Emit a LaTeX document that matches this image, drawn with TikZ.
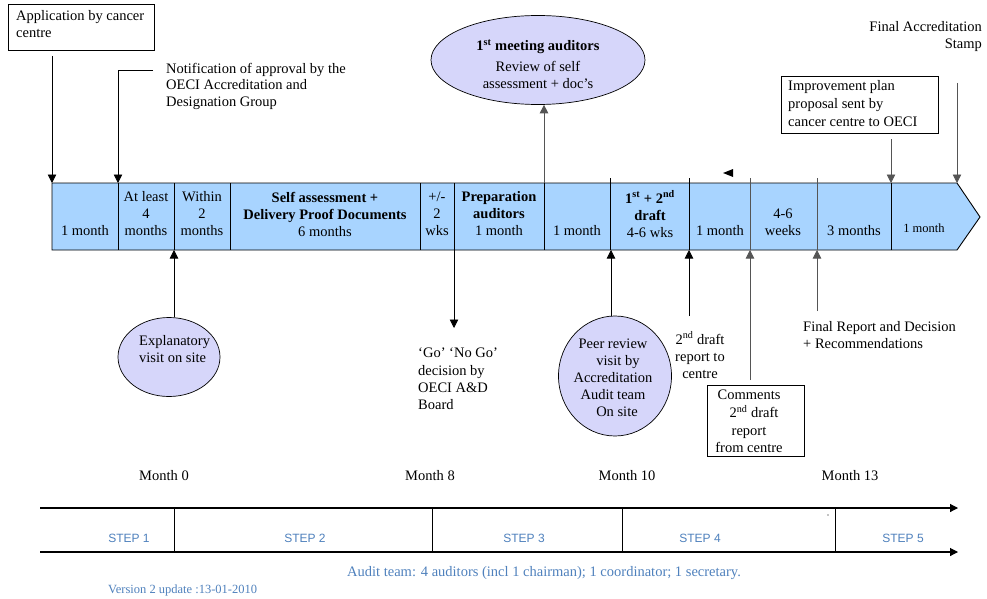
\documentclass[tikz,border=0pt]{standalone}
\usepackage{fontspec}
\setmainfont{Liberation Serif}
\newfontfamily\stepfont{Liberation Sans}
\usetikzlibrary{arrows.meta,shapes.geometric}
\definecolor{bandfill}{RGB}{168,212,255}
\definecolor{ellfill}{RGB}{214,214,250}
\definecolor{stepblue}{RGB}{79,129,189}
\definecolor{arrgray}{RGB}{85,85,85}
\tikzset{
  txt/.style={inner sep=0pt, font=\fontsize{14.5}{17}\selectfont, align=center},
  txtl/.style={txt, align=left, anchor=west},
  arr/.style={-{Triangle[length=8.5pt,width=8.5pt]}, line width=0.8pt},
  garr/.style={arr, draw=arrgray},
  divider/.style={line width=0.8pt},
  gdivider/.style={line width=0.9pt, draw=arrgray},
  box/.style={draw, line width=0.9pt, inner sep=0pt},
  bubble/.style={ellipse, draw, fill=ellfill, line width=0.7pt, inner sep=0pt},
  steptxt/.style={inner sep=0pt, font=\stepfont\fontsize{12}{14}\selectfont, text=stepblue},
  bluetxt/.style={inner sep=0pt, text=stepblue},
  steparr/.style={-{Triangle[length=8pt,width=8pt]}, line width=1.1pt},
}
\begin{document}
\begin{tikzpicture}[x=1pt,y=-1pt]
\useasboundingbox (0,0) rectangle (987,599);
\fill[white] (0,0) rectangle (987,599);

% ---------- main band ----------
\draw[fill=bandfill, line width=0.9pt] (52,183) -- (957,183) -- (980,217) -- (957,250) -- (52,250) -- cycle;
\coordinate (band) at (52,183);

% dividers
\foreach \x in {118,174,230,420,454,544,891} \draw[divider] (\x,183) -- (\x,250);
\foreach \x in {610,689} \draw[divider] (\x,178) -- (\x,250);
\foreach \x in {750,817} \draw[gdivider] (\x,178) -- (\x,250);

% cell texts
\node[txt] (c1) at (85,231) {1 month};
\node[txt] (c2) at (146,214) {At least\\4\\months};
\node[txt] (c3) at (202,214) {Within\\2\\months};
\node[txt] (c4) at (325,214) {\textbf{Self assessment +}\\\textbf{Delivery Proof Documents}\\6 months};
\node[txt] (c5) at (437,214) {+/-\\2\\wks};
\node[txt] (c6) at (499,214) {\textbf{Preparation}\\\textbf{auditors}\\1 month};
\node[txt] (c7) at (577,231) {1 month};
\node[txt] (c8) at (650,214) {\textbf{1\textsuperscript{st} + 2\textsuperscript{nd}}\\\textbf{draft}\\4-6 wks};
\node[txt] (c9) at (720,231) {1 month};
\node[txt] (c10) at (783,222) {4-6\\weeks};
\node[txt] (c11) at (854,231) {3 months};
\node[txt, font=\fontsize{12.5}{15}\selectfont] (c12) at (924,228) {1 month};

% stray small triangle
\fill (723,173) -- (733,169) -- (733,177) -- cycle;

% ---------- top items ----------
\node[box, minimum width=146pt, minimum height=46pt] (app) at (81,27) {};
\node[txtl] (apptxt) at (16,24) {Application by cancer\\centre};
\coordinate (appS) at (52,56);
\coordinate (appT) at (52,183);
\draw[arr] (appS) -- (appT);

\node[txtl, font=\fontsize{14.5}{16.5}\selectfont] (notif) at (166,86) {Notification of approval by the\\OECI Accreditation and\\Designation Group};
\coordinate (notifS) at (153,70);
\coordinate (notifT) at (118,183);
\draw[arr] (notifS) -| (notifT);

\node[bubble, minimum width=214pt, minimum height=89pt] (meet) at (538,60) {};
\node[txt] (meettxt) at (538,64) {\textbf{1\textsuperscript{st} meeting auditors}\\[4pt]Review of self\\assessment + doc’s};
\coordinate (meetB) at (544,183);
\draw[garr] (meetB) -- (meet.south -| meetB);

\node[box, minimum width=157pt, minimum height=57pt] (impr) at (859.5,104.5) {};
\node[txtl, font=\fontsize{14.5}{18}\selectfont] (imprtxt) at (788,104) {Improvement plan\\proposal sent by\\cancer centre to OECI};
\coordinate (imprS) at (891,139);
\coordinate (imprT) at (891,183);
\draw[garr] (imprS) -- (imprT);

\node[txt, align=right, anchor=east] (finacc) at (982,36.5) {Final Accreditation\\Stamp};
\coordinate (finS) at (957,83);
\coordinate (finT) at (957,183);
\draw[garr] (finS) -- (finT);

% ---------- bottom items ----------
\node[bubble, minimum width=102pt, minimum height=79pt] (expl) at (169,357) {};
\node[txtl] (expltxt) at (139,349.5) {Explanatory\\visit on site};
\coordinate (explT) at (174,250);
\draw[arr] (expl.north -| explT) -- (explT);

\coordinate (gonoS) at (454,250);
\coordinate (gonoT) at (454,328);
\draw[arr] (gonoS) -- (gonoT);
\node[txtl, font=\fontsize{14.5}{17.3}\selectfont] (gonogo) at (418,379) {‘Go’ ‘No Go’\\decision by\\OECI A\&D\\Board};

\node[bubble, minimum width=113pt, minimum height=120pt] (peer) at (615,376) {};
\node[txt] (peertxt) at (613,377.5) {Peer review\\\hspace*{10pt}visit by\\Accreditation\\Audit team\\\hspace*{8pt}On site};
\coordinate (peerT) at (611,250);
\draw[arr] (peer.north -| peerT) -- (peerT);

\node[txt] (draft2) at (700,355) {2\textsuperscript{nd} draft\\report to\\centre};
\coordinate (draftS) at (689,316);
\coordinate (draftT) at (689,250);
\draw[arr] (draftS) -- (draftT);

\node[box, minimum width=97pt, minimum height=71pt] (comm) at (755.5,420.5) {};
\node[txt, font=\fontsize{14.5}{17.7}\selectfont] (commtxt) at (749,421.5) {Comments\\\hspace*{10pt}2\textsuperscript{nd} draft\\report\\from centre};
\coordinate (commS) at (750,380);
\coordinate (commT) at (750,250);
\draw[garr] (commS) -- (commT);

\node[txtl] (finrep) at (803,335) {Final Report and Decision\\+ Recommendations};
\coordinate (finrepS) at (817,311);
\coordinate (finrepT) at (817,250);
\draw[garr] (finrepS) -- (finrepT);

% month labels
\node[txt] (m0) at (164,476) {Month 0};
\node[txt] (m8) at (430,476) {Month 8};
\node[txt] (m10) at (627,476) {Month 10};
\node[txt] (m13) at (850,476) {Month 13};

% ---------- steps ----------
\coordinate (l1s) at (40,508);
\coordinate (l1e) at (958,508);
\coordinate (l2s) at (40,552);
\coordinate (l2e) at (958,552);
\draw[steparr] (l1s) -- (l1e);
\draw[steparr] (l2s) -- (l2e);
\foreach \x in {174,432,622,835} \draw[line width=0.8pt] (\x,508) -- (\x,552);
\fill (828,515) circle (0.6pt);

\node[steptxt] (s1) at (129,538) {STEP 1};
\node[steptxt] (s2) at (305,538) {STEP 2};
\node[steptxt] (s3) at (524,538) {STEP 3};
\node[steptxt] (s4) at (700,538) {STEP 4};
\node[steptxt] (s5) at (903,538) {STEP 5};

\node[bluetxt, font=\fontsize{14.5}{17}\selectfont] (audit) at (544,573) {Audit team: 4 auditors (incl 1 chairman); 1 coordinator; 1 secretary.};
\node[bluetxt, font=\fontsize{12.5}{14}\selectfont, anchor=west] (version) at (108,590) {Version 2 update :13-01-2010};
\end{tikzpicture}
\end{document}
